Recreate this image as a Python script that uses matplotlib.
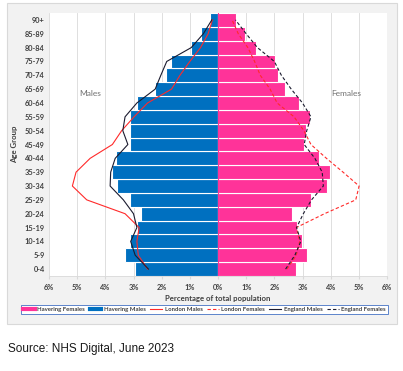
import matplotlib
matplotlib.use("Agg")
import matplotlib.pyplot as plt
from matplotlib.patches import Rectangle
from matplotlib.lines import Line2D
import numpy as np

# Age groups from youngest (bottom) to oldest (top)
age_groups = ["0-4", "5-9", "10-14", "15-19", "20-24", "25-29", "30-34", "35-39",
              "40-44", "45-49", "50-54", "55-59", "60-64", "65-69", "70-74",
              "75-79", "80-84", "85-89", "90+"]

havering_males = [2.94, 3.29, 3.14, 2.87, 2.73, 3.11, 3.57, 3.76, 3.63, 3.12,
                  3.12, 3.12, 2.87, 2.25, 1.84, 1.67, 0.96, 0.59, 0.28]
havering_females = [2.76, 3.17, 2.98, 2.80, 2.61, 3.31, 3.88, 3.99, 3.57, 3.05,
                    3.13, 3.25, 2.87, 2.38, 2.12, 2.03, 1.36, 0.97, 0.63]
london_males = [2.50, 2.83, 2.88, 2.80, 3.30, 4.66, 5.17, 5.04, 4.54, 3.75,
                3.42, 2.98, 2.50, 1.65, 1.35, 1.00, 0.62, 0.35, 0.20]
london_females = [2.45, 2.78, 2.90, 2.78, 3.78, 4.89, 5.01, 4.44, 3.85, 3.30,
                  3.05, 2.70, 2.10, 1.85, 1.50, 1.30, 1.06, 0.72, 0.50]
england_males = [2.47, 2.94, 3.10, 2.88, 3.00, 3.36, 3.83, 3.81, 3.65, 3.20,
                 3.38, 3.30, 2.88, 2.23, 2.03, 1.82, 0.95, 0.52, 0.22]
england_females = [2.40, 2.73, 2.94, 2.79, 3.03, 3.32, 3.74, 3.70, 3.44, 3.06,
                   3.15, 3.30, 3.00, 2.60, 2.25, 2.00, 1.40, 1.00, 0.62]

x_ticks = [-6, -5, -4, -3, -2, -1, 0, 1, 2, 3, 4, 5, 6]
x_tick_labels = ["6%", "5%", "4%", "3%", "2%", "1%", "0%", "1%", "2%", "3%", "4%", "5%", "6%"]

BLUE = "#0070c0"
PINK = "#ff3399"
RED = "#ff2a2a"
NAVY = "#1b1b2f"
TXT = "#404040"
FONT = "Lato"

W, H = 403, 371
fig = plt.figure(figsize=(W / 100, H / 100), dpi=100)
fig.patch.set_facecolor("white")

# chart frame
frame = Rectangle((7 / W, 1 - 324 / H), (397 - 7) / W, (324 - 3) / H,
                  transform=fig.transFigure, facecolor="#f2f2f2",
                  edgecolor="#d9d9d9", linewidth=0.8, zorder=-10)
fig.patches.append(frame)

ax = fig.add_axes([49 / W, 1 - 276 / H, (387 - 49) / W, (276 - 13) / H])
ax.set_zorder(1)
ax.set_facecolor("white")

y = np.arange(len(age_groups))
ax.barh(y, -np.array(havering_males), height=1.0, color=BLUE, edgecolor="white",
        linewidth=0.8, zorder=2)
ax.barh(y, havering_females, height=1.0, color=PINK, edgecolor="white",
        linewidth=0.8, zorder=2)

ax.plot(-np.array(london_males), y, color=RED, lw=0.8, zorder=3)
ax.plot(london_females, y, color=RED, lw=0.8, ls=(0, (3, 2)), zorder=3)
ax.plot(-np.array(england_males), y, color=NAVY, lw=0.8, zorder=4)
ax.plot(england_females, y, color=NAVY, lw=0.8, ls=(0, (3, 2)), zorder=4)

ax.axvline(0, color=PINK, lw=0.8, zorder=5)

ax.set_xlim(-6, 6)
ax.set_ylim(-0.5, len(age_groups) - 0.5)
ax.set_xticks(x_ticks)
ax.set_xticklabels(x_tick_labels)
ax.set_yticks(y)
ax.set_yticklabels(age_groups)
ax.grid(axis="x", color="#d9d9d9", lw=0.6, zorder=0)
ax.set_axisbelow(True)

for s in ["top", "right", "left"]:
    ax.spines[s].set_visible(False)
ax.spines["bottom"].set_color("#d9d9d9")
ax.spines["bottom"].set_linewidth(0.6)
ax.tick_params(axis="y", length=0, pad=3)
ax.tick_params(axis="x", length=2, color="#d9d9d9", pad=4)
for lab in ax.get_xticklabels() + ax.get_yticklabels():
    lab.set_fontfamily(FONT)
    lab.set_fontweight("bold")
    lab.set_fontsize(5.3)
    lab.set_color(TXT)

ax.set_xlabel("Percentage of total population", fontfamily=FONT, fontweight="bold",
              fontsize=5.6, color=TXT, labelpad=3)
ax.set_ylabel("Age Group", fontfamily=FONT, fontweight="bold", fontsize=5.6,
              color=TXT, labelpad=5)

ax.text(-4.55, 12.65, "Males", fontfamily=FONT, fontsize=6, color="#707070",
        ha="center", va="center")
ax.text(4.55, 12.7, "Females", fontfamily=FONT, fontsize=6, color="#707070",
        ha="center", va="center")

handles = [
    Line2D([], [], color=PINK, lw=3),
    Line2D([], [], color=BLUE, lw=3),
    Line2D([], [], color=RED, lw=0.8),
    Line2D([], [], color=RED, lw=0.8, ls=(0, (3, 2))),
    Line2D([], [], color=NAVY, lw=0.8),
    Line2D([], [], color=NAVY, lw=0.8, ls=(0, (3, 2))),
]
labels = ["Havering Females", "Havering Males", "London Males", "London Females",
          "England Males", "England Females"]
leg = fig.legend(handles, labels, loc="center", bbox_to_anchor=(204.5 / W, 1 - 309.5 / H),
                 ncol=6, frameon=True, fancybox=False, framealpha=1,
                 prop={"family": FONT, "weight": "bold", "size": 4.3},
                 handlelength=2.0, handletextpad=0.4, columnspacing=0.75,
                 borderpad=0.4, borderaxespad=0)
leg.set_zorder(5)
leg.get_frame().set_edgecolor("#4472c4")
leg.get_frame().set_linewidth(0.6)
for t in leg.get_texts():
    t.set_color(TXT)

fig.text(8 / W, 1 - 349 / H, "Source: NHS Digital, June 2023", fontfamily="Liberation Sans",
         fontsize=8.5, color="#1a1a1a", ha="left", va="center")

fig.savefig("out.png", dpi=100)
